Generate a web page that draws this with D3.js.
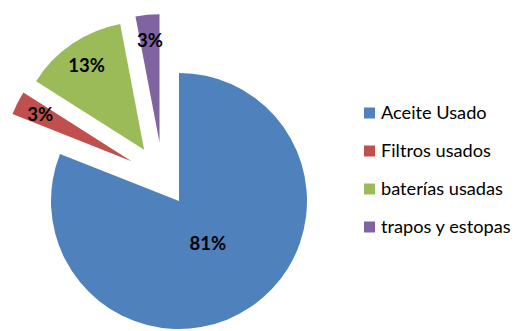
<!DOCTYPE html>
<html>
<head>
<meta charset="utf-8">
<script src="https://cdn.jsdelivr.net/npm/d3@7"></script>
<style>
  body { margin: 0; background: #fff; }
  svg { display: block; }
</style>
</head>
<body>
<div id="chart"></div>
<script>

var categories = ["Aceite Usado", "Filtros usados", "baterías usadas", "trapos y estopas"]
var values     = [81, 3, 13, 3]
var colors     = ["#4F81BD", "#C0504D", "#9BBB59", "#8064A2"]
var exploded   = [false, true, true, true]

var width = 515, height = 331
var cx = 179, cy = 201, radius = 128
var explodeDist = 62

var svg = d3.select("#chart").append("svg")
  .attr("width", width)
  .attr("height", height)

var total = d3.sum(values)
var fmt = d3.format(".0%")

var data = categories.map(function(c, i) {
  return { name: c, value: values[i], color: colors[i], exploded: exploded[i] }
})

var pie = d3.pie().sort(null).value(function(d) { return d.value })
var arcs = pie(data)
var arc = d3.arc().innerRadius(0).outerRadius(radius)

// middle of the exploded group, the slices fan out around it
var ex = arcs.filter(function(a) { return a.data.exploded })
var groupMid = (ex[0].startAngle + ex[ex.length - 1].endAngle) / 2

function offset(a) {
  if (!a.data.exploded) return [0, 0]
  var mid = (a.startAngle + a.endAngle) / 2
  var ang = groupMid + 0.55 * (mid - groupMid)
  return [Math.sin(ang) * explodeDist, -Math.cos(ang) * explodeDist]
}

var g = svg.append("g").attr("transform", "translate(" + cx + "," + cy + ")")

var slice = g.selectAll(".slice").data(arcs).enter()
  .append("g")
  .attr("class", "slice")
  .attr("transform", function(a) { var o = offset(a); return "translate(" + o[0] + "," + o[1] + ")" })

slice.append("path")
  .attr("d", arc)
  .attr("fill", function(a) { return a.data.color })

slice.append("text")
  .attr("transform", function(a) {
    var mid = (a.startAngle + a.endAngle) / 2
    var r = a.data.exploded ? radius * 0.8 : radius * 0.4
    return "translate(" + (Math.sin(mid) * r) + "," + (-Math.cos(mid) * r) + ")"
  })
  .attr("text-anchor", "middle")
  .attr("dy", "0.35em")
  .attr("font-family", "Lato, 'Open Sans', sans-serif")
  .attr("font-weight", "bold")
  .attr("font-size", 18.5)
  .attr("fill", "#000")
  .text(function(a) { return fmt(a.data.value / total) })

// legend
var ly = d3.scalePoint().domain(categories).range([113, 227])

var legend = svg.selectAll(".legend").data(data).enter()
  .append("g")
  .attr("class", "legend")
  .attr("transform", function(d) { return "translate(364," + ly(d.name) + ")" })

legend.append("rect")
  .attr("x", 0)
  .attr("y", -5.5)
  .attr("width", 11)
  .attr("height", 11)
  .attr("fill", function(d) { return d.color })

legend.append("text")
  .attr("x", 17)
  .attr("dy", "0.35em")
  .attr("font-family", "Lato, 'Open Sans', sans-serif")
  .attr("font-size", 18.2)
  .attr("fill", "#000")
  .text(function(d) { return d.name })

</script>
</body>
</html>
